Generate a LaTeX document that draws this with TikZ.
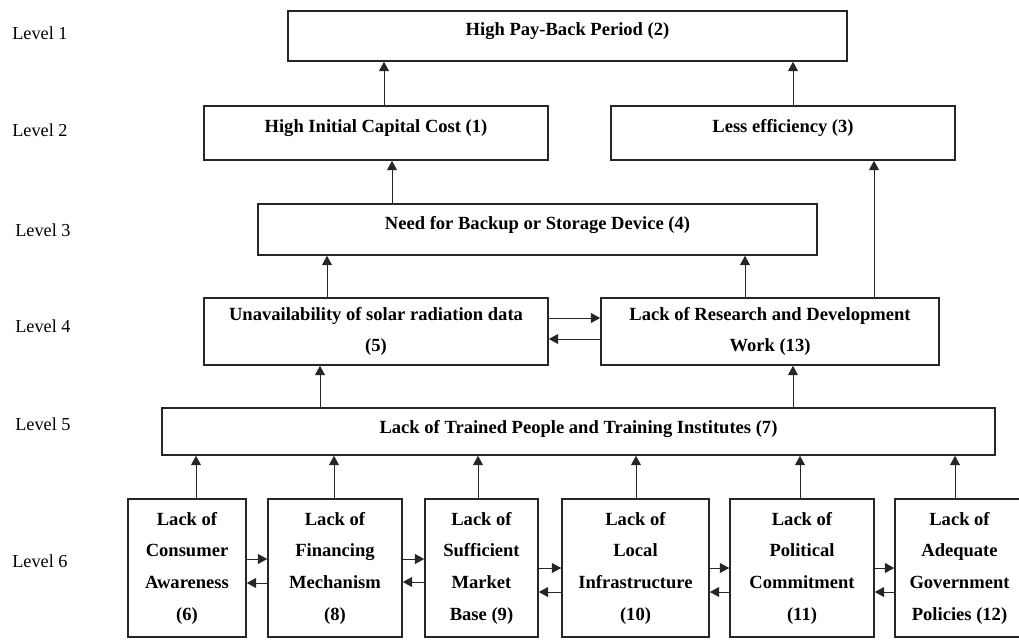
\documentclass[tikz,border=0pt]{standalone}
\usepackage{fontspec}
\setmainfont{Liberation Serif}
\usetikzlibrary{arrows.meta}

\begin{document}
\begin{tikzpicture}[x=0.025cm, y=-0.025cm,
	every node/.style={font=\fontsize{13}{22}\selectfont},
	level/.style={anchor=west, inner sep=0pt},
	box/.style={draw=black!85, line width=1.1pt, align=center, inner sep=0pt, font=\bfseries\fontsize{13.2}{22.5}\selectfont},
	raised/.style={text depth=10pt},
	arr/.style={draw=black!85, line width=0.7pt, -{Triangle[length=6.6pt,width=7pt]}}]
	\useasboundingbox (0,0) rectangle (1019,640);
	% levels
	\node[level] (lv1) at (12,33) {Level 1};
	\node[level] (lv2) at (12,130) {Level 2};
	\node[level] (lv3) at (15,230) {Level 3};
	\node[level] (lv4) at (15,326) {Level 4};
	\node[level] (lv5) at (15,424) {Level 5};
	\node[level] (lv6) at (12,561) {Level 6};
	% boxes
	\node[box, raised, minimum width=13.975cm, minimum height=1.25cm] (b2) at (567.5,36) {High Pay-Back Period (2)};
	\node[box, raised, minimum width=8.6cm, minimum height=1.35cm] (b1) at (376,133) {High Initial Capital Cost (1)};
	\node[box, raised, minimum width=8.6cm, minimum height=1.35cm] (b3) at (783,133) {Less efficiency (3)};
	\node[box, raised, minimum width=13.975cm, minimum height=1.275cm] (b4) at (537.5,229.5) {Need for Backup or Storage Device (4)};
	\node[box, minimum width=8.6cm, minimum height=1.675cm] (b5) at (376,331.5) {Unavailability of solar radiation data\\(5)};
	\node[box, minimum width=8.45cm, minimum height=1.675cm] (b13) at (770,331.5) {Lack of Research and Development\\Work (13)};
	\node[box, text depth=7pt, minimum width=20.825cm, minimum height=1.175cm] (b7) at (578.5,431.5) {Lack of Trained People and Training Institutes (7)};
	\node[box, minimum width=2.95cm, minimum height=3.45cm] (b6) at (187,568) {Lack of\\Consumer\\Awareness\\(6)};
	\node[box, minimum width=3.35cm, minimum height=3.45cm] (b8) at (335,568) {Lack of\\Financing\\Mechanism\\(8)};
	\node[box, minimum width=2.825cm, minimum height=3.45cm] (b9) at (481.5,568) {Lack of\\Sufficient\\Market\\Base (9)};
	\node[box, minimum width=3.675cm, minimum height=3.45cm] (b10) at (635.5,568) {Lack of\\Local\\Infrastructure\\(10)};
	\node[box, minimum width=3.6cm, minimum height=3.45cm] (b11) at (802,568) {Lack of\\Political\\Commitment\\(11)};
	\node[box, minimum width=3.225cm, minimum height=3.45cm] (b12) at (959.5,568) {Lack of\\Adequate\\Government\\Policies (12)};
	% upward links
	\draw[arr] (b1.north -| 384,0) -- (b2.south -| 384,0);
	\draw[arr] (b3.north -| 793,0) -- (b2.south -| 793,0);
	\draw[arr] (b4.north -| 392,0) -- (b1.south -| 392,0);
	\draw[arr] (b5.north -| 327,0) -- (b4.south -| 327,0);
	\draw[arr] (b13.north -| 745,0) -- (b4.south -| 745,0);
	\draw[arr] (b13.north -| 874,0) -- (b3.south -| 874,0);
	\draw[arr] (b7.north -| 320,0) -- (b5.south -| 320,0);
	\draw[arr] (b7.north -| 793,0) -- (b13.south -| 793,0);
	\draw[arr] (b6.north -| 196,0) -- (b7.south -| 196,0);
	\draw[arr] (b8.north -| 334,0) -- (b7.south -| 334,0);
	\draw[arr] (b9.north -| 478,0) -- (b7.south -| 478,0);
	\draw[arr] (b10.north -| 636,0) -- (b7.south -| 636,0);
	\draw[arr] (b11.north -| 800,0) -- (b7.south -| 800,0);
	\draw[arr] (b12.north -| 955,0) -- (b7.south -| 955,0);
	% two-way links
	\draw[arr] (b5.east |- 0,318) -- (b13.west |- 0,318);
	\draw[arr] (b13.west |- 0,339) -- (b5.east |- 0,339);
	\draw[arr] (b6.east |- 0,559) -- (b8.west |- 0,559);
	\draw[arr] (b8.west |- 0,583) -- (b6.east |- 0,583);
	\draw[arr] (b8.east |- 0,559) -- (b9.west |- 0,559);
	\draw[arr] (b9.west |- 0,582) -- (b8.east |- 0,582);
	\draw[arr] (b9.east |- 0,568) -- (b10.west |- 0,568);
	\draw[arr] (b10.west |- 0,592) -- (b9.east |- 0,592);
	\draw[arr] (b10.east |- 0,568) -- (b11.west |- 0,568);
	\draw[arr] (b11.west |- 0,592) -- (b10.east |- 0,592);
	\draw[arr] (b11.east |- 0,568) -- (b12.west |- 0,568);
	\draw[arr] (b12.west |- 0,592) -- (b11.east |- 0,592);
\end{tikzpicture}
\end{document}
